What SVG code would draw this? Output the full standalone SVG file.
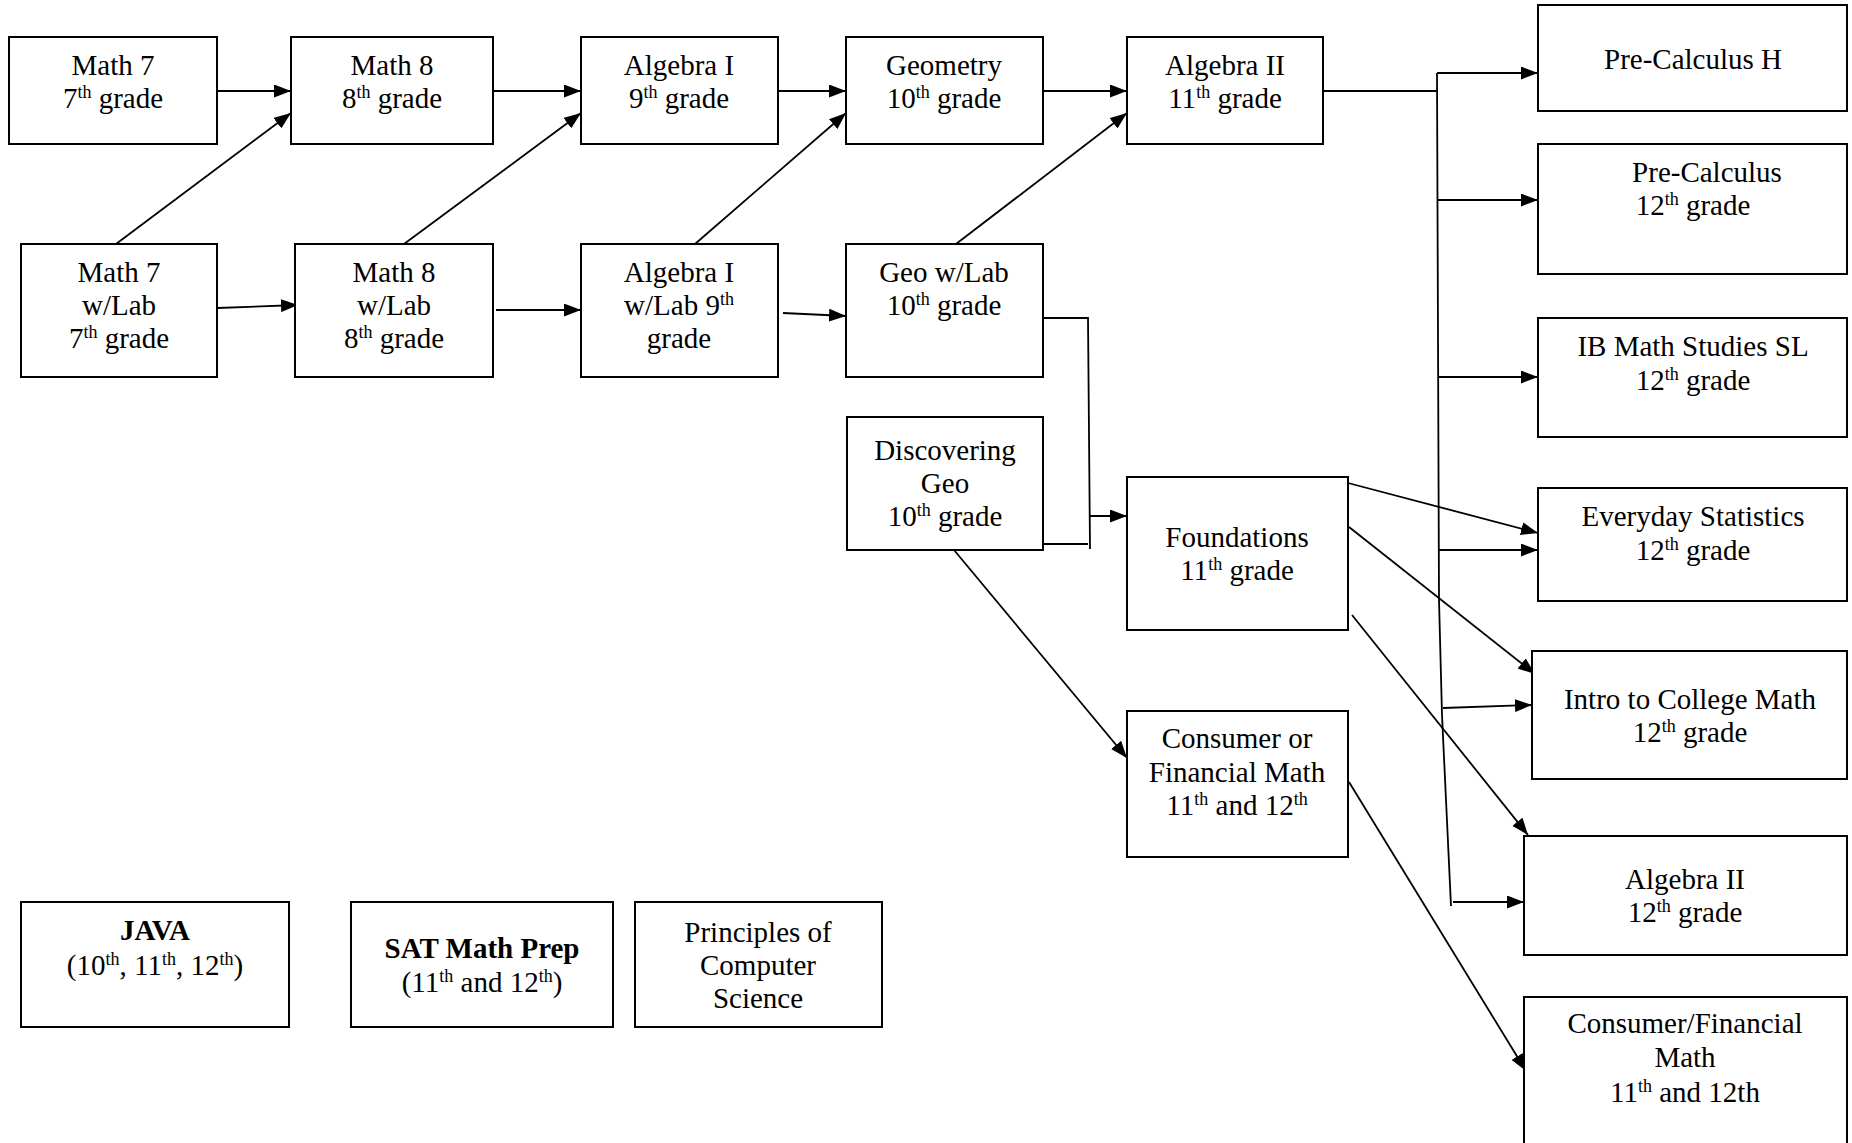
<svg xmlns="http://www.w3.org/2000/svg" width="1852" height="1143" viewBox="0 0 1852 1143">
<style>
.box{fill:#fff;stroke:#000;stroke-width:2}
.t{font-family:"Liberation Serif","Times New Roman",serif;font-size:29px;fill:#000;text-anchor:middle}
.b{font-weight:bold}
.s{font-size:18px}
.ln{fill:none;stroke:#000;stroke-width:1.8}
.ar{fill:none;stroke:#000;stroke-width:1.8;marker-end:url(#ah)}
</style>
<defs>
<marker id="ah" markerUnits="userSpaceOnUse" markerWidth="17" markerHeight="13" refX="17" refY="6.5" orient="auto">
<path d="M0,0 L17,6.5 L0,13 z" fill="#000"/>
</marker>
</defs>
<rect width="1852" height="1143" fill="#fff"/>
<g id="connectors">
<line class="ar" x1="217" y1="91" x2="291" y2="91"/>
<line class="ar" x1="493" y1="91" x2="581" y2="91"/>
<line class="ar" x1="778" y1="91" x2="846" y2="91"/>
<line class="ar" x1="1043" y1="91" x2="1127" y2="91"/>
<line class="ar" x1="116" y1="244" x2="291" y2="113"/>
<line class="ar" x1="404" y1="244" x2="581" y2="113"/>
<line class="ar" x1="695" y1="244" x2="846" y2="113"/>
<line class="ar" x1="956" y1="244" x2="1127" y2="113"/>
<line class="ar" x1="217" y1="308" x2="298" y2="305"/>
<line class="ar" x1="496" y1="310" x2="581" y2="310"/>
<line class="ar" x1="783" y1="313" x2="846" y2="316"/>
<polyline class="ln" points="1043,318 1088,318 1090,549"/>
<line class="ln" x1="1043" y1="544" x2="1088" y2="544"/>
<line class="ar" x1="1090" y1="516" x2="1127" y2="516"/>
<line class="ar" x1="954" y1="550" x2="1127" y2="758"/>
<line class="ln" x1="1323" y1="91" x2="1437" y2="91"/>
<polyline class="ln" points="1437,73 1439,600 1442,715 1451,906"/>
<line class="ar" x1="1437" y1="73" x2="1538" y2="73"/>
<line class="ar" x1="1437" y1="200" x2="1538" y2="200"/>
<line class="ar" x1="1438" y1="377" x2="1538" y2="377"/>
<line class="ar" x1="1439" y1="550" x2="1538" y2="550"/>
<line class="ar" x1="1443" y1="708" x2="1532" y2="705"/>
<line class="ar" x1="1453" y1="902" x2="1524" y2="902"/>
<line class="ar" x1="1348" y1="483" x2="1538" y2="533"/>
<line class="ar" x1="1349" y1="527" x2="1535" y2="674"/>
<line class="ar" x1="1352" y1="615" x2="1528" y2="835"/>
<line class="ar" x1="1349" y1="782" x2="1526" y2="1071"/>
</g>
<g id="math7">
<rect class="box" x="9" y="37" width="208" height="107"/>
<text class="t" x="113" y="75">Math 7</text>
<text class="t" x="113" y="108">7<tspan class="s" dy="-10">th</tspan><tspan dy="10"> grade</tspan></text>
</g>
<g id="math8">
<rect class="box" x="291" y="37" width="202" height="107"/>
<text class="t" x="392" y="75">Math 8</text>
<text class="t" x="392" y="108">8<tspan class="s" dy="-10">th</tspan><tspan dy="10"> grade</tspan></text>
</g>
<g id="algebra1">
<rect class="box" x="581" y="37" width="197" height="107"/>
<text class="t" x="679" y="75">Algebra I</text>
<text class="t" x="679" y="108">9<tspan class="s" dy="-10">th</tspan><tspan dy="10"> grade</tspan></text>
</g>
<g id="geometry">
<rect class="box" x="846" y="37" width="197" height="107"/>
<text class="t" x="944" y="75">Geometry</text>
<text class="t" x="944" y="108">10<tspan class="s" dy="-10">th</tspan><tspan dy="10"> grade</tspan></text>
</g>
<g id="algebra2">
<rect class="box" x="1127" y="37" width="196" height="107"/>
<text class="t" x="1225" y="75">Algebra II</text>
<text class="t" x="1225" y="108">11<tspan class="s" dy="-10">th</tspan><tspan dy="10"> grade</tspan></text>
</g>
<g id="math7lab">
<rect class="box" x="21" y="244" width="196" height="133"/>
<text class="t" x="119" y="282">Math 7</text>
<text class="t" x="119" y="315">w/Lab</text>
<text class="t" x="119" y="348">7<tspan class="s" dy="-10">th</tspan><tspan dy="10"> grade</tspan></text>
</g>
<g id="math8lab">
<rect class="box" x="295" y="244" width="198" height="133"/>
<text class="t" x="394" y="282">Math 8</text>
<text class="t" x="394" y="315">w/Lab</text>
<text class="t" x="394" y="348">8<tspan class="s" dy="-10">th</tspan><tspan dy="10"> grade</tspan></text>
</g>
<g id="algebra1lab">
<rect class="box" x="581" y="244" width="197" height="133"/>
<text class="t" x="679" y="282">Algebra I</text>
<text class="t" x="679" y="315">w/Lab 9<tspan class="s" dy="-10">th</tspan></text>
<text class="t" x="679" y="348">grade</text>
</g>
<g id="geolab">
<rect class="box" x="846" y="244" width="197" height="133"/>
<text class="t" x="944" y="282">Geo w/Lab</text>
<text class="t" x="944" y="315">10<tspan class="s" dy="-10">th</tspan><tspan dy="10"> grade</tspan></text>
</g>
<g id="discgeo">
<rect class="box" x="847" y="417" width="196" height="133"/>
<text class="t" x="945" y="460">Discovering</text>
<text class="t" x="945" y="493">Geo</text>
<text class="t" x="945" y="526">10<tspan class="s" dy="-10">th</tspan><tspan dy="10"> grade</tspan></text>
</g>
<g id="foundations">
<rect class="box" x="1127" y="477" width="221" height="153"/>
<text class="t" x="1237" y="547">Foundations</text>
<text class="t" x="1237" y="580">11<tspan class="s" dy="-10">th</tspan><tspan dy="10"> grade</tspan></text>
</g>
<g id="consumer1">
<rect class="box" x="1127" y="711" width="221" height="146"/>
<text class="t" x="1237" y="748">Consumer or</text>
<text class="t" x="1237" y="782">Financial Math</text>
<text class="t" x="1237" y="815">11<tspan class="s" dy="-10">th</tspan><tspan dy="10"> and 12</tspan><tspan class="s" dy="-10">th</tspan></text>
</g>
<g id="precalch">
<rect class="box" x="1538" y="5" width="309" height="106"/>
<text class="t" x="1693" y="69">Pre-Calculus H</text>
</g>
<g id="precalc">
<rect class="box" x="1538" y="144" width="309" height="130"/>
<text class="t" x="1707" y="182">Pre-Calculus</text>
<text class="t" x="1693" y="215">12<tspan class="s" dy="-10">th</tspan><tspan dy="10"> grade</tspan></text>
</g>
<g id="ibmath">
<rect class="box" x="1538" y="318" width="309" height="119"/>
<text class="t" x="1693" y="356">IB Math Studies SL</text>
<text class="t" x="1693" y="390">12<tspan class="s" dy="-10">th</tspan><tspan dy="10"> grade</tspan></text>
</g>
<g id="everydaystats">
<rect class="box" x="1538" y="488" width="309" height="113"/>
<text class="t" x="1693" y="526">Everyday Statistics</text>
<text class="t" x="1693" y="560">12<tspan class="s" dy="-10">th</tspan><tspan dy="10"> grade</tspan></text>
</g>
<g id="introcollege">
<rect class="box" x="1532" y="651" width="315" height="128"/>
<text class="t" x="1690" y="709">Intro to College Math</text>
<text class="t" x="1690" y="742">12<tspan class="s" dy="-10">th</tspan><tspan dy="10"> grade</tspan></text>
</g>
<g id="algebra2-12">
<rect class="box" x="1524" y="836" width="323" height="119"/>
<text class="t" x="1685" y="889">Algebra II</text>
<text class="t" x="1685" y="922">12<tspan class="s" dy="-10">th</tspan><tspan dy="10"> grade</tspan></text>
</g>
<g id="consumer2">
<rect class="box" x="1524" y="997" width="323" height="160"/>
<text class="t" x="1685" y="1033">Consumer/Financial</text>
<text class="t" x="1685" y="1067">Math</text>
<text class="t" x="1685" y="1102">11<tspan class="s" dy="-10">th</tspan><tspan dy="10"> and 12th</tspan></text>
</g>
<g id="java">
<rect class="box" x="21" y="902" width="268" height="125"/>
<text class="t b" x="155" y="940">JAVA</text>
<text class="t" x="155" y="975">(10<tspan class="s" dy="-10">th</tspan><tspan dy="10">, 11</tspan><tspan class="s" dy="-10">th</tspan><tspan dy="10">, 12</tspan><tspan class="s" dy="-10">th</tspan><tspan dy="10">)</tspan></text>
</g>
<g id="satprep">
<rect class="box" x="351" y="902" width="262" height="125"/>
<text class="t b" x="482" y="958">SAT Math Prep</text>
<text class="t" x="482" y="992">(11<tspan class="s" dy="-10">th</tspan><tspan dy="10"> and 12</tspan><tspan class="s" dy="-10">th</tspan><tspan dy="10">)</tspan></text>
</g>
<g id="principles">
<rect class="box" x="635" y="902" width="247" height="125"/>
<text class="t" x="758" y="942">Principles of</text>
<text class="t" x="758" y="975">Computer</text>
<text class="t" x="758" y="1008">Science</text>
</g>
</svg>
